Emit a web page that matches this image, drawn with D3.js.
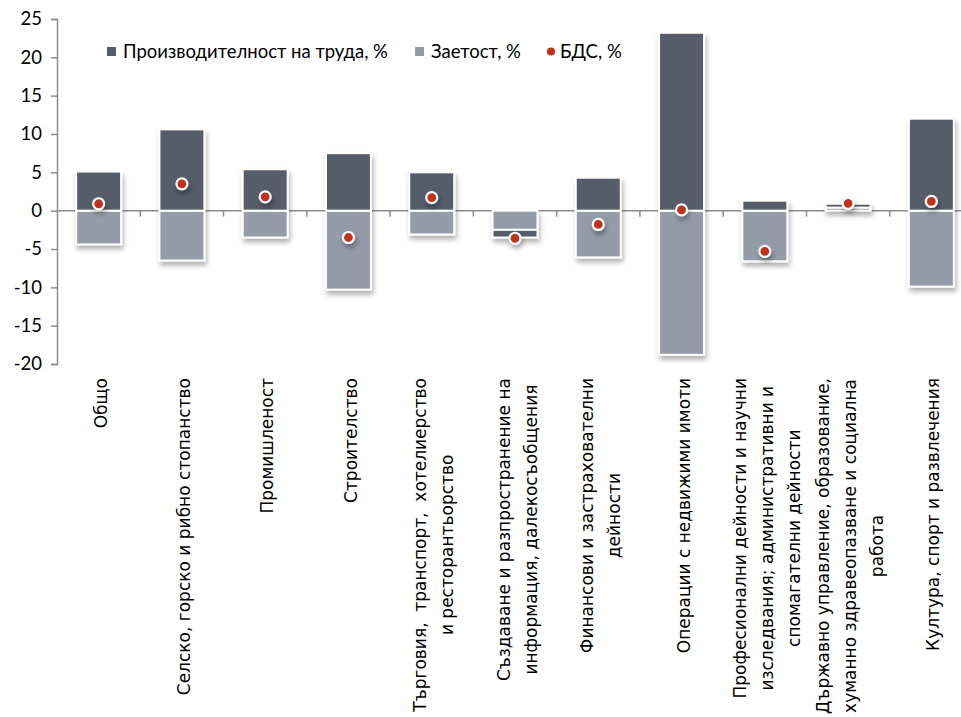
<!DOCTYPE html>
<html>
<head>
<meta charset="utf-8">
<script src="https://cdn.jsdelivr.net/npm/d3@7"></script>
<style>
    body { margin: 0; background: #fff; }
    #chart text { fill: #000; }
</style>
</head>
<body>
<div id="chart"></div>
<script>
// Chart values.
let categories = [
    ["Общо"],
    ["Селско, горско и рибно стопанство"],
    ["Промишленост"],
    ["Строителство"],
    ["Търговия,  транспорт,  хотелиерство", "и ресторантьорство"],
    ["Създаване и разпространение на", "информация, далекосъобщения"],
    ["Финансови и застрахователни", "дейности"],
    ["Операции с недвижими имоти"],
    ["Професионални дейности и научни", "изследвания; административни и", "спомагателни дейности"],
    ["Държавно управление, образование,", "хуманно здравеопазване и социална", "работа"],
    ["Култура, спорт и развлечения"]
];
let productivity = [5.1, 10.6, 5.4, 7.5, 5.0, -1.0, 4.3, 23.2, 1.3, 0.5, 12.0];
let employment = [-4.4, -6.5, -3.5, -10.3, -3.1, -2.5, -6.1, -18.8, -6.6, 0.4, -9.9];
let gdp = [0.9, 3.5, 1.8, -3.5, 1.7, -3.6, -1.8, 0.1, -5.3, 0.95, 1.2];
let yTicks = [-20, -15, -10, -5, 0, 5, 10, 15, 20, 25];
let legendLabels = ["Производителност на труда, %", "Заетост, %", "БДС, %"];

let colors = {prod: "#555d6b", emp: "#959ba8", gdp: "#c1301c"};
let width = 961, height = 717;
let plot = {left: 57, right: 973, top: 19, bottom: 364};

let svg = d3.select("#chart")
    .append("svg")
    .attr("width", width)
    .attr("height", height);

// Soft shadow under the bars and dots, like the office chart.
let defs = svg.append("defs");
defs.append("filter")
    .attr("id", "shadow")
    .attr("x", "-30%").attr("y", "-30%")
    .attr("width", "160%").attr("height", "160%")
    .append("feDropShadow")
    .attr("dx", 1.5).attr("dy", 4)
    .attr("stdDeviation", 2.5)
    .attr("flood-color", "#000")
    .attr("flood-opacity", 0.3);

let x = d3.scaleBand()
    .domain(d3.range(categories.length))
    .range([plot.left, plot.right])
    .paddingInner(0.46)
    .paddingOuter(0.23);

let y = d3.scaleLinear()
    .domain([-20, 25])
    .range([plot.bottom, plot.top]);

// Employment stacks first, productivity on top of it (both signs).
let rows = categories.map(function(c, i) {
    return {emp: employment[i], prod: productivity[i]};
});
let series = d3.stack()
    .keys(["emp", "prod"])
    .offset(d3.stackOffsetDiverging)(rows);

drawAxes();
drawBars();
drawDots();
drawCategoryLabels();
drawLegend();

/**
 * Y axis on the left, zero line with category tick marks.
 */
function drawAxes() {
    let yAxis = svg.append("g")
        .attr("transform", "translate(" + plot.left + ",0)")
        .call(d3.axisLeft(y)
            .tickValues(yTicks)
            .tickFormat(function(d) { return String(d); })   // plain hyphen, not U+2212
            .tickSize(6)
            .tickPadding(9));
    yAxis.select(".domain").attr("stroke", "#8c8c8c").attr("stroke-width", 1.5);
    yAxis.selectAll(".tick line").attr("stroke", "#8c8c8c").attr("stroke-width", 1.5);
    yAxis.selectAll(".tick text")
        .attr("font-family", "Lato, 'Open Sans', sans-serif")
        .attr("font-size", 18.5)
        .attr("fill", "#000");

    let step = x.step();
    let bounds = d3.range(categories.length + 1).map(function(i) {
        return plot.left + i * step;
    });
    let xAxis = svg.append("g");
    xAxis.append("line")
        .attr("x1", plot.left).attr("x2", plot.right)
        .attr("y1", y(0)).attr("y2", y(0))
        .attr("stroke", "#8c8c8c").attr("stroke-width", 1.5);
    xAxis.selectAll("line.tick")
        .data(bounds.slice(1))
        .enter()
        .append("line")
            .attr("class", "tick")
            .attr("x1", function(d) { return d; })
            .attr("x2", function(d) { return d; })
            .attr("y1", y(0)).attr("y2", y(0) + 6)
            .attr("stroke", "#8c8c8c").attr("stroke-width", 1.5);
}

/**
 * Stacked columns with white outline and drop shadow.
 */
function drawBars() {
    let g = svg.append("g").attr("filter", "url(#shadow)");
    g.selectAll("g.series")
        .data(series)
        .enter()
        .append("g")
            .attr("class", "series")
            .attr("fill", function(s) { return colors[s.key]; })
        .selectAll("rect")
        .data(function(s) { return s.map(function(d, i) { return {d: d, i: i}; }); })
        .enter()
        .append("rect")
            .attr("x", function(p) { return x(p.i); })
            .attr("width", x.bandwidth())
            .attr("y", function(p) { return y(Math.max(p.d[0], p.d[1])); })
            .attr("height", function(p) { return Math.abs(y(p.d[0]) - y(p.d[1])); })
            .attr("stroke", "#fff")
            .attr("stroke-width", 2);
}

/**
 * Red markers for the value added series.
 */
function drawDots() {
    svg.append("g")
        .attr("filter", "url(#shadow)")
        .selectAll("circle")
        .data(gdp)
        .enter()
        .append("circle")
            .attr("cx", function(d, i) { return x(i) + x.bandwidth() / 2; })
            .attr("cy", function(d) { return y(d); })
            .attr("r", 5.5)
            .attr("fill", colors.gdp)
            .attr("stroke", "#fff")
            .attr("stroke-width", 2.2);
}

/**
 * Rotated, multi-line category labels below the plot.
 */
function drawCategoryLabels() {
    let top = 378, lineGap = 27, fontSize = 17;
    categories.forEach(function(lines, i) {
        let cx = x(i) + x.bandwidth() / 2 + 2;
        let g = svg.append("g");
        let texts = lines.map(function(line, k) {
            return g.append("text")
                .attr("font-family", "'DejaVu Sans', sans-serif")
                .attr("font-size", fontSize)
                .attr("text-anchor", "middle")
                .style("white-space", "pre")
                .text(line);
        });
        let maxLen = d3.max(texts, function(t) { return t.node().getComputedTextLength(); });
        texts.forEach(function(t, k) {
            let gx = cx + (k - (lines.length - 1) / 2) * lineGap + fontSize * 0.36;
            t.attr("transform", "translate(" + gx + "," + (top + maxLen / 2) + ") rotate(-90)");
        });
    });
}

/**
 * Legend row inside the plot, near the top.
 */
function drawLegend() {
    let items = [
        {label: legendLabels[0], color: colors.prod, shape: "square", x: 107},
        {label: legendLabels[1], color: colors.emp, shape: "square", x: 415},
        {label: legendLabels[2], color: colors.gdp, shape: "dot", x: 547}
    ];
    let g = svg.append("g");
    items.forEach(function(item) {
        if (item.shape === "square") {
            g.append("rect")
                .attr("x", item.x).attr("y", 47)
                .attr("width", 9).attr("height", 9)
                .attr("fill", item.color);
        } else {
            g.append("circle")
                .attr("cx", item.x + 4).attr("cy", 51.5)
                .attr("r", 4)
                .attr("fill", item.color);
        }
        g.append("text")
            .attr("x", item.x + (item.shape === "square" ? 16 : 13))
            .attr("y", 58)
            .attr("font-family", "Lato, 'Open Sans', sans-serif")
            .attr("font-size", 18.5)
            .text(item.label);
    });
}
</script>
</body>
</html>
